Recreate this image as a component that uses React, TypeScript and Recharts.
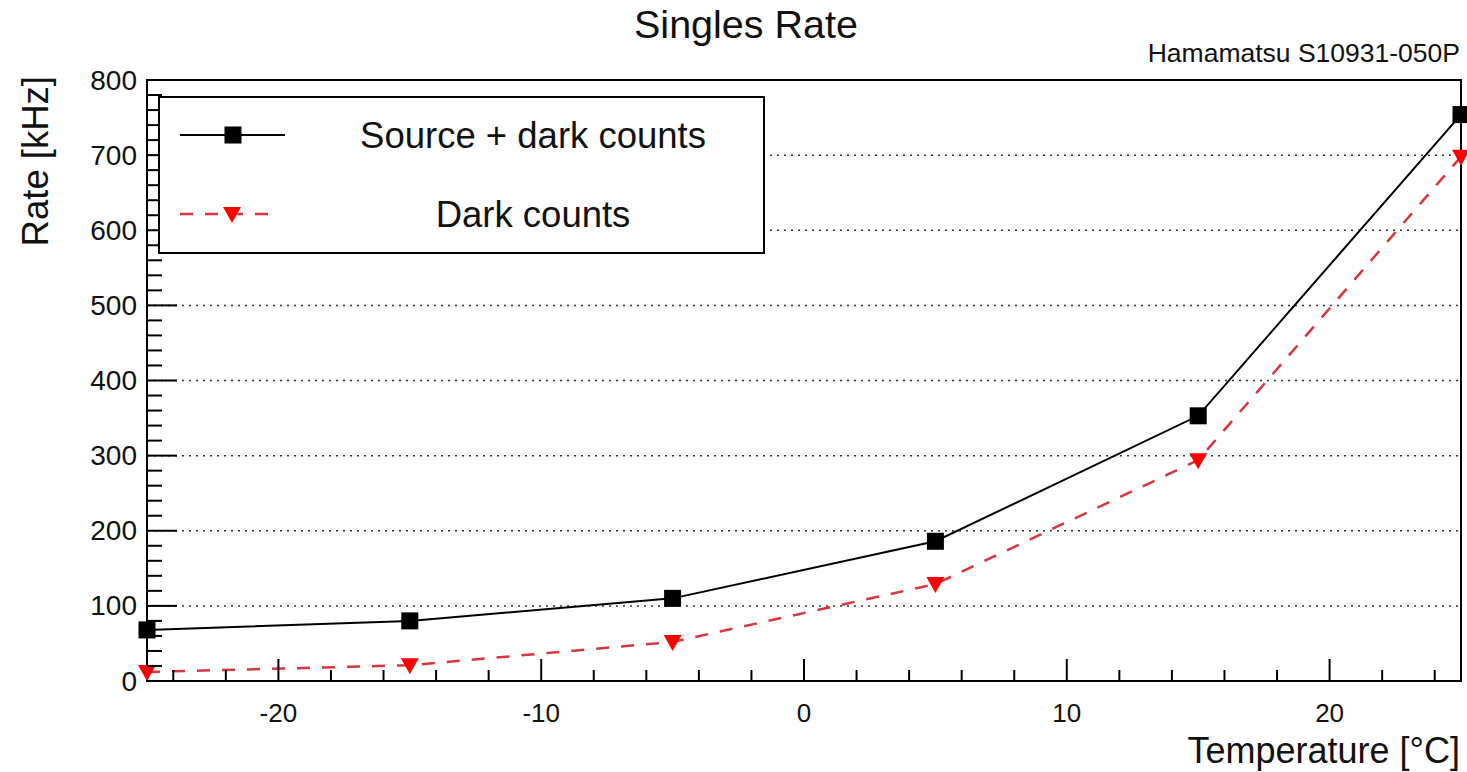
import React from "react";
import {
  LineChart,
  Line,
  XAxis,
  YAxis,
  ReferenceLine,
  ReferenceArea,
  Legend,
  Label,
} from "recharts";

// temperature [°C]
const temps = [-25, -15, -5, 5, 15, 25];
// rate [kHz]
const sourcePlusDark = [68, 80, 110, 186, 353, 754];
const darkCounts = [12, 21, 52, 129, 294, 698];

const xMajor = [-20, -10, 0, 10, 20];
const xTicks = [-24, -22, -20, -18, -16, -14, -12, -10, -8, -6, -4, -2, 0, 2, 4, 6, 8, 10, 12, 14, 16, 18, 20, 22, 24];
const yTicks = [
  0, 20, 40, 60, 80, 100, 120, 140, 160, 180, 200, 220, 240, 260, 280, 300, 320, 340, 360, 380, 400,
  420, 440, 460, 480, 500, 520, 540, 560, 580, 600, 620, 640, 660, 680, 700, 720, 740, 760, 780, 800,
];
const gridValues = [100, 200, 300, 400, 500, 600, 700];

const FONT = '"Liberation Sans", Arial, Helvetica, sans-serif';
const W = 1467;
const H = 772;

const data = temps.map((t, i) => ({
  temp: t,
  source: sourcePlusDark[i],
  dark: darkCounts[i],
}));

function Square({ cx, cy }: { cx: number; cy: number }) {
  return <rect x={cx - 8.5} y={cy - 8.5} width={17} height={17} fill="#000" />;
}

function TriangleDown({ cx, cy }: { cx: number; cy: number }) {
  return (
    <polygon
      points={`${cx - 9},${cy - 7} ${cx + 9},${cy - 7} ${cx},${cy + 9}`}
      fill="#ff0000"
    />
  );
}

function XTick(props: any) {
  const { x, y, payload } = props;
  const major = xMajor.includes(payload.value);
  return (
    <g>
      <line x1={x} y1={y} x2={x} y2={y - (major ? 22 : 11)} stroke="#000" strokeWidth={2} />
      {major && (
        <text x={x} y={y + 41} textAnchor="middle" fontSize={26} fontFamily={FONT} fill="#111">
          {payload.value}
        </text>
      )}
    </g>
  );
}

function YTick(props: any) {
  const { x, y, payload } = props;
  const major = payload.value % 100 === 0;
  return (
    <g>
      <line x1={x} y1={y} x2={x + (major ? 30 : 15)} y2={y} stroke="#000" strokeWidth={2} />
      {major && (
        <text x={x - 10} y={y + 9.5} textAnchor="end" fontSize={28} fontFamily={FONT} fill="#111">
          {payload.value}
        </text>
      )}
    </g>
  );
}

function LegendBox() {
  return (
    <svg width={607} height={158} style={{ display: "block" }}>
      <rect x={1} y={1} width={605} height={156} fill="#fff" stroke="#000" strokeWidth={2} />
      <line x1={22} y1={39} x2={127} y2={39} stroke="#000" strokeWidth={2} />
      <Square cx={75} cy={39} />
      <text x={375} y={52} textAnchor="middle" fontSize={36.5} fontFamily={FONT} fill="#111">
        Source + dark counts
      </text>
      <line x1={22} y1={118} x2={117} y2={118} stroke="#d9343f" strokeWidth={2.5} strokeDasharray="13 12" />
      <TriangleDown cx={74} cy={118} />
      <text x={375} y={131} textAnchor="middle" fontSize={36.5} fontFamily={FONT} fill="#111">
        Dark counts
      </text>
    </svg>
  );
}

export default function App() {
  return (
    <div style={{ position: "absolute", left: 0, top: 0, width: W, height: H, background: "#fff" }}>
      <div
        style={{
          position: "absolute",
          left: 746,
          top: 5,
          transform: "translateX(-50%)",
          fontFamily: FONT,
          fontSize: 39.5,
          lineHeight: 1,
          color: "#111",
          whiteSpace: "nowrap",
        }}
      >
        Singles Rate
      </div>
      <div
        style={{
          position: "absolute",
          right: 7,
          top: 40,
          fontFamily: FONT,
          fontSize: 26.5,
          lineHeight: 1,
          color: "#111",
          whiteSpace: "nowrap",
        }}
      >
        Hamamatsu S10931-050P
      </div>
      <LineChart width={W} height={H} data={data} margin={{ top: 80, right: 6, bottom: 0, left: 0 }}>
        <ReferenceArea x1={-25} x2={25} y1={0} y2={800} fill="none" stroke="#000" strokeWidth={2} />
        {gridValues.map((v) => (
          <ReferenceLine key={v} y={v} stroke="#333" strokeWidth={1.5} strokeDasharray="2 5" />
        ))}
        <XAxis
          dataKey="temp"
          type="number"
          domain={[-25, 25]}
          ticks={xTicks}
          interval={0}
          tickSize={0}
          tickMargin={0}
          tickLine={false}
          axisLine={false}
          height={91}
          tick={<XTick />}
        >
          <Label
            content={() => (
              <text x={1460} y={763} textAnchor="end" fontSize={36} fontFamily={FONT} fill="#111">
                Temperature [°C]
              </text>
            )}
          />
        </XAxis>
        <YAxis
          type="number"
          domain={[0, 800]}
          ticks={yTicks}
          interval={0}
          tickSize={0}
          tickMargin={0}
          tickLine={false}
          axisLine={false}
          width={147}
          tick={<YTick />}
        >
          <Label
            content={() => (
              <text
                x={48}
                y={76}
                transform="rotate(-90, 48, 76)"
                textAnchor="end"
                fontSize={36.5}
                fontFamily={FONT}
                fill="#111"
              >
                Rate [kHz]
              </text>
            )}
          />
        </YAxis>
        <Legend
          layout="vertical"
          align="center"
          verticalAlign="middle"
          wrapperStyle={{ position: "absolute", left: 158, top: 96, width: 607, height: 158 }}
          content={() => <LegendBox />}
        />
        <Line
          type="linear"
          dataKey="dark"
          name="Dark counts"
          stroke="#d9343f"
          strokeWidth={2.5}
          strokeDasharray="13 12"
          dot={(p: any) => <TriangleDown key={`d${p.index}`} cx={p.cx} cy={p.cy} />}
          activeDot={false}
          isAnimationActive={false}
        />
        <Line
          type="linear"
          dataKey="source"
          name="Source + dark counts"
          stroke="#000"
          strokeWidth={2}
          dot={(p: any) => <Square key={`s${p.index}`} cx={p.cx} cy={p.cy} />}
          activeDot={false}
          isAnimationActive={false}
        />
      </LineChart>
    </div>
  );
}
